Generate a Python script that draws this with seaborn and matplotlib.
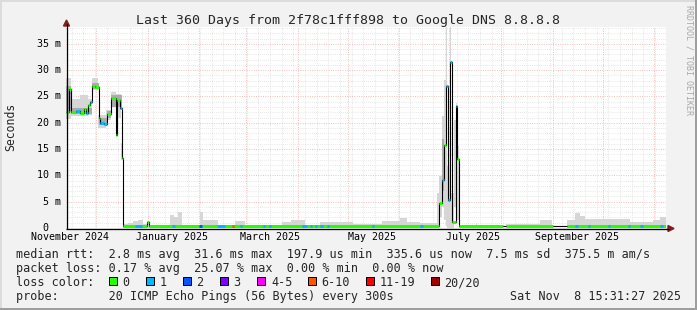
import numpy as np
import pandas as pd
import matplotlib
matplotlib.use("Agg")
import matplotlib.pyplot as plt
import matplotlib.dates as mdates
import matplotlib.transforms as mtrans
from matplotlib.patches import Rectangle, Polygon
from matplotlib.lines import Line2D
import seaborn as sns

# ---------------------------------------------------------------- data
START = "2024-11-13 15:31:27"
END = "2025-11-08 15:31:27"

# median rtt (ms), step series; day = days since START
med_day = [0.0, 1.8, 2.7, 6.0, 8.4, 10.8, 12.0, 13.2, 14.4, 15.3, 17.4, 19.5,
           20.4, 22.8, 24.3, 27.0, 29.7, 30.3, 32.4, 33.3, 34.2, 48.6, 49.5,
           223.5, 225.6, 226.8, 227.7, 228.9, 230.4, 231.6, 233.7, 234.6,
           235.5, 262.2, 264.0, 292.2, 300.6, 360.0]
med_ms = [22.1, 26.5, 22.1, 22.3, 21.9, 22.6, 21.8, 23.4, 24.0, 27.0, 26.8,
          21.0, 20.0, 19.8, 21.6, 24.8, 17.7, 24.4, 22.8, 13.3, 0.3, 1.2, 0.3,
          4.8, 9.1, 15.8, 26.9, 5.3, 31.6, 1.2, 23.2, 13.2, 0.3, np.nan, 0.3,
          np.nan, 0.3, 0.3]
med_loss = [0, 0, 0, 1, 0, 0, 1, 0, 1, 0, 0, 0,
            1, 1, 0, 0, 0, 0, 1, 0, 0, 0, 0,
            0, 1, 0, 1, 1, 1, 0, 1, 0,
            0, 0, 0, 0, 0, 0]

# loss events on the low part of the median line
loss_start = [41.4, 63.6, 79.8, 90.6, 99.6, 104.4, 118.2, 121.8, 141.6, 146.4,
              149.4, 152.4, 156.6, 183.6, 212.4, 305.4, 313.2, 325.2, 337.2,
              344.4, 356.4]
loss_end = [45.6, 65.4, 81.6, 95.4, 100.5, 105.3, 119.1, 123.0, 144.6, 147.3,
            150.6, 154.2, 157.5, 184.5, 214.2, 307.2, 314.1, 326.1, 338.1,
            346.2, 358.2]
loss_level = [1, 1, 2, 1, 5, 1, 1, 1, 1, 1, 1, 1, 1, 1, 1, 1, 1, 1, 1, 1, 1]

# smoke (spread of the 20 pings), ms
smoke_day = [0.0, 3.0, 8.4, 13.2, 15.6, 19.2, 24.0, 27.0, 30.0, 33.0, 34.2,
             37.2, 40.2, 43.2, 46.2, 48.6, 49.8, 62.4, 64.8, 67.2, 69.6, 80.4, 81.9,
             91.2, 101.4, 107.4, 129.6, 135.0, 143.4, 152.4, 172.2, 189.6, 200.4,
             204.6, 212.4, 222.6, 223.8, 225.6, 226.8, 228.2, 228.8, 230.2,
             231.2, 232.8, 233.8, 234.8, 235.5, 246.0, 246.6, 262.2, 264.0,
             284.4, 291.6, 292.2, 300.6, 305.4, 308.4, 311.4, 316.2, 338.4,
             352.2, 356.4, 360.0]
smoke_lo = [20.8, 21.2, 21.2, 21.5, 26.3, 19.0, 20.5, 23.5, 21.0, 13.0, 0.0,
            0.0, 0.0, 0.0, 0.0, 0.0, 0.0, 0.0, 0.0, 0.0, 0.0, 0.0, 0.0,
            0.0, 0.0, 0.0, 0.0, 0.0, 0.0, 0.0, 0.0, 0.0, 0.0,
            0.0, 0.0, 0.0, 2.1, 4.0, 1.5, 0.3, 0.0, 0.0,
            0.0, 4.0, 12.3, 1.5, 0.0, 0.0, 0.0, np.nan, 0.0,
            0.0, 0.0, np.nan, 0.0, 0.0, 0.0, 0.0, 0.0, 0.0,
            0.0, 0.0, 0.0]
smoke_hi = [28.5, 24.6, 25.3, 24.5, 28.5, 21.5, 22.5, 25.9, 25.5, 16.2, 0.8,
            1.0, 1.3, 1.6, 0.8, 1.3, 0.6, 2.5, 2.0, 3.1, 0.6, 3.1, 1.5,
            0.6, 1.4, 0.6, 1.2, 1.6, 0.6, 1.1, 0.8, 1.3, 1.9,
            1.2, 0.9, 6.6, 9.8, 21.2, 28.1, 38.2, 11.7, 38.2,
            6.6, 20.5, 23.7, 15.5, 0.6, 1.0, 0.6, np.nan, 0.8,
            1.5, 4.0, np.nan, 1.5, 2.8, 2.2, 1.8, 1.8, 1.2,
            1.6, 2.1, 2.1]

# denser smoke around the median, ms
dense_day = [0.0, 3.0, 15.3, 19.5, 24.3, 27.0, 33.3, 34.2,
             225.6, 226.8, 228.2, 228.8, 230.2, 230.8, 232.8, 234.8]
dense_lo = [22.0, 21.6, 26.4, 19.6, 21.0, 23.0, 13.0, np.nan,
            7.0, 5.0, np.nan, 2.5, np.nan, np.nan, 13.0, np.nan]
dense_hi = [27.0, 22.9, 27.6, 21.0, 22.2, 25.2, 14.8, np.nan,
            17.0, 27.0, np.nan, 8.0, np.nan, np.nan, 23.0, np.nan]

# core columns where nearly all pings were spread over the full range, ms
core_day = [228.2, 228.8, 230.2, 230.8]
core_lo = [0.3, np.nan, 0.0, np.nan]
core_hi = [38.2, np.nan, 38.2, np.nan]

loss_labels = ["0", "1", "2", "3", "4-5", "6-10", "11-19", "20/20"]
loss_colors = ["#26ff00", "#00b8ff", "#0059ff", "#7e00ff", "#ff00ff",
               "#ff5500", "#ff0000", "#a10000"]

y_ticks = [0, 5, 10, 15, 20, 25, 30, 35]
y_tick_labels = ["0  ", "5 m", "10 m", "15 m", "20 m", "25 m", "30 m", "35 m"]
label_months = ["2024-11-01", "2025-01-01", "2025-03-01", "2025-05-01",
                "2025-07-01", "2025-09-01"]
month_labels = ["November 2024", "January 2025", "March 2025", "May 2025",
                "July 2025", "September 2025"]

title = "Last 360 Days from 2f78c1fff898 to Google DNS 8.8.8.8"
leg_rtt = "median rtt:  2.8 ms avg  31.6 ms max  197.9 us min  335.6 us now  7.5 ms sd  375.5 m am/s"
leg_loss = "packet loss: 0.17 % avg  25.07 % max  0.00 % min  0.00 % now"
leg_color = "loss color:"
leg_probe = "probe:       20 ICMP Echo Pings (56 Bytes) every 300s"
leg_date = "Sat Nov  8 15:31:27 2025"
y_unit = "Seconds"
watermark = "RRDTOOL / TOBI OETIKER"

# ---------------------------------------------------------------- style
sns.set_theme(style="white")
plt.rcParams["font.family"] = ["DejaVu Sans Mono"]
plt.rcParams["lines.solid_capstyle"] = "butt"

W, H, DPI = 697, 310, 100
PX = lambda x: x / W
PY = lambda y: 1 - y / H
LW1 = 72.0 / DPI  # one pixel in points

fig = plt.figure(figsize=(W / DPI, H / DPI), dpi=DPI, facecolor="#f2f2f2")
ax = fig.add_axes([PX(66), PY(228), 600 / W, 201 / H])
ax.set_facecolor("white")
for s in ax.spines.values():
    s.set_visible(False)

t0 = mdates.date2num(pd.Timestamp(START))
t1 = mdates.date2num(pd.Timestamp(END))
ax.set_xlim(t0, t1)
ax.set_ylim(0, 38.2)

# grid
GRAY, RED = "#dcdcdc", "#f3b4b4"
for v in np.arange(0, 38.2, 1.0):
    if v % 5 != 0:
        ax.axhline(v, color=GRAY, lw=0.8 * LW1, dashes=(1, 1.6), zorder=0.5)
for d in pd.date_range(START, END, freq="W-SUN"):
    ax.axvline(mdates.date2num(d.normalize()), color=GRAY, lw=0.8 * LW1,
               dashes=(1, 1.6), zorder=0.5)
for v in y_ticks[1:]:
    ax.axhline(v, color=RED, lw=0.9 * LW1, dashes=(1, 1.6), zorder=0.6)
for d in pd.date_range(START, END, freq="MS"):
    ax.axvline(mdates.date2num(d), color=RED, lw=0.9 * LW1, dashes=(1, 1.6), zorder=0.6)

# smoke
sx = t0 + np.array(smoke_day)
ax.fill_between(sx, smoke_lo, smoke_hi, step="post", color="#d6d6d6", lw=0, zorder=1)
dx = t0 + np.array(dense_day)
ax.fill_between(dx, dense_lo, dense_hi, step="post", color="#ababab", lw=0, zorder=1.2)
cx = t0 + np.array(core_day)
ax.fill_between(cx, core_lo, core_hi, step="post", color="#2e2e2e", lw=0, zorder=1.3)

# median line (black) and loss-coloured pieces
mx = t0 + np.array(med_day)
df = pd.DataFrame({"t": mx, "ms": med_ms})
sns.lineplot(data=df, x="t", y="ms", ax=ax, color="black", lw=1.1 * LW1,
             drawstyle="steps-post", estimator=None, sort=False, zorder=2)
for i in range(len(mx) - 1):
    if not np.isnan(med_ms[i]):
        ax.hlines(med_ms[i], mx[i], mx[i + 1], color=loss_colors[med_loss[i]],
                  lw=3 * LW1, zorder=3)
base = pd.Series(med_ms, index=med_day)
for a, b, lv in zip(loss_start, loss_end, loss_level):
    yv = base[base.index <= a].iloc[-1]
    ax.hlines(yv, t0 + a, t0 + b, color=loss_colors[lv], lw=3 * LW1, zorder=3.1)

ax.set_xlabel("")
ax.set_ylabel("")

# x labels
lab_pos = [mdates.date2num(pd.Timestamp(m) + pd.Timedelta(days=15)) for m in label_months]
ax.set_xticks(lab_pos, month_labels)
ax.tick_params(axis="x", length=0, pad=2.6, labelsize=7.2, colors="black")
ax.set_yticks([])

# y labels (monospace, unit column aligned)
ADV = 7.2 * DPI / 72 * 0.602
for v, lab in zip(y_ticks, y_tick_labels):
    tr = mtrans.offset_copy(ax.get_yaxis_transform(), x=-(5 + len(lab) * ADV), y=0, units="dots")
    ax.text(0, v, lab, transform=tr, ha="left", va="center", fontsize=7.2, color="black")

# axes lines and arrows
fig.add_artist(Line2D([PX(66), PX(669)], [PY(228.5), PY(228.5)], color="black", lw=1.3 * LW1))
fig.add_artist(Line2D([PX(66.5), PX(66.5)], [PY(229), PY(24)], color="black", lw=1.3 * LW1))
ARROW = "#801f1f"
fig.add_artist(Polygon([[PX(668), PY(225.5)], [PX(674), PY(228.5)], [PX(668), PY(231.5)]],
                       closed=True, color=ARROW, transform=fig.transFigure))
fig.add_artist(Polygon([[PX(63.5), PY(26)], [PX(66.5), PY(20)], [PX(69.5), PY(26)]],
                       closed=True, color=ARROW, transform=fig.transFigure))

# texts
fig.text(PX(348), PY(24), title, ha="center", va="baseline", fontsize=9.5)
fig.text(PX(11), PY(127), y_unit, rotation=90, ha="center", va="center", fontsize=8.3)
fig.text(PX(689), PY(5), watermark, rotation=-90, ha="center", va="top", fontsize=6,
         color="#a8a8a8")
LEG = 8.5
fig.text(PX(15.5), PY(258), leg_rtt, ha="left", va="baseline", fontsize=LEG)
fig.text(PX(15.5), PY(272), leg_loss, ha="left", va="baseline", fontsize=LEG)
fig.text(PX(15.5), PY(286), leg_color, ha="left", va="baseline", fontsize=LEG)
fig.text(PX(15.5), PY(300), leg_probe, ha="left", va="baseline", fontsize=LEG)
fig.text(PX(681), PY(300), leg_date, ha="right", va="baseline", fontsize=LEG)

box_x = [108.5, 146, 183, 219.5, 257, 307.5, 366, 431]
lab_x = [122.5, 159.5, 196.5, 233.5, 271, 321.5, 379.5, 444.5]
for bx, lx, lab, col in zip(box_x, lab_x, loss_labels, loss_colors):
    fig.add_artist(Rectangle((PX(bx), PY(285)), 8 / W, 8 / H, transform=fig.transFigure,
                             facecolor=col, edgecolor="black", lw=LW1))
    fig.text(PX(lx), PY(286), lab, ha="left", va="baseline", fontsize=LEG)

# frame shading
fig.add_artist(Rectangle((0, 0), PX(2), 1, transform=fig.transFigure, color="#dcdcdc", lw=0))
fig.add_artist(Rectangle((0, PY(2)), 1, 2 / H, transform=fig.transFigure, color="#dcdcdc", lw=0))
fig.add_artist(Rectangle((PX(695), 0), 2 / W, 1, transform=fig.transFigure, color="#9e9e9e", lw=0))
fig.add_artist(Rectangle((0, 0), 1, 2 / H, transform=fig.transFigure, color="#9e9e9e", lw=0))

fig.savefig("out.png", dpi=DPI, facecolor=fig.get_facecolor())
